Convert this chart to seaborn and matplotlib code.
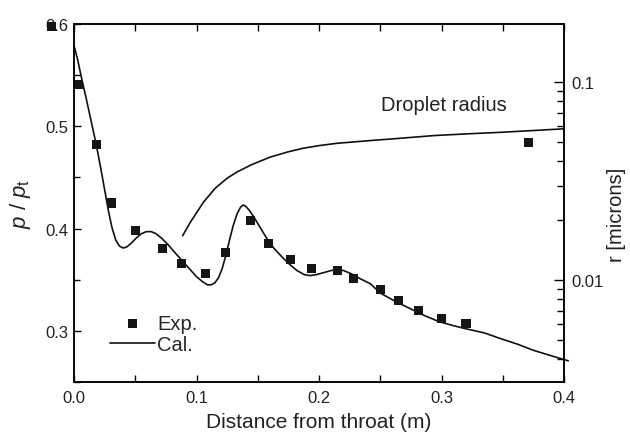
import numpy as np
import pandas as pd
import matplotlib
matplotlib.use("Agg")
import matplotlib.pyplot as plt
import matplotlib.ticker as mticker
import seaborn as sns

# ---- data ----
exp_x = [-0.018, 0.004, 0.0185, 0.031, 0.050, 0.072, 0.088, 0.107, 0.124, 0.144,
         0.159, 0.177, 0.194, 0.215, 0.228, 0.250, 0.265, 0.281, 0.300, 0.320]
exp_p = [0.598, 0.541, 0.482, 0.425, 0.398, 0.381, 0.366, 0.356, 0.377, 0.408,
         0.385, 0.370, 0.361, 0.359, 0.351, 0.340, 0.330, 0.3195, 0.312, 0.307]

cal_x = [0.000, 0.003, 0.006, 0.010, 0.014, 0.018, 0.022, 0.025, 0.028, 0.031,
         0.034, 0.037, 0.040, 0.043, 0.047, 0.051, 0.055, 0.059, 0.063, 0.067,
         0.072, 0.077, 0.082, 0.088, 0.094, 0.100, 0.105, 0.109, 0.112, 0.115,
         0.118, 0.121, 0.124, 0.127, 0.130, 0.133, 0.136, 0.138, 0.140, 0.143,
         0.147, 0.152, 0.157, 0.163, 0.170, 0.176, 0.182, 0.188, 0.193, 0.198,
         0.204, 0.210, 0.215, 0.220, 0.226, 0.232, 0.242, 0.250, 0.262, 0.274,
         0.286, 0.298, 0.310, 0.320, 0.335, 0.348, 0.362, 0.375, 0.390, 0.4035]
cal_p = [0.579, 0.565, 0.548, 0.527, 0.505, 0.483, 0.458, 0.438, 0.418, 0.401,
         0.389, 0.383, 0.381, 0.382, 0.386, 0.391, 0.395, 0.397, 0.397, 0.395,
         0.390, 0.384, 0.377, 0.369, 0.361, 0.353, 0.348, 0.345, 0.345, 0.347,
         0.352, 0.361, 0.374, 0.389, 0.403, 0.414, 0.421, 0.423, 0.422, 0.418,
         0.411, 0.401, 0.391, 0.381, 0.372, 0.365, 0.359, 0.355, 0.354, 0.355,
         0.357, 0.359, 0.360, 0.359, 0.356, 0.352, 0.346, 0.337, 0.329, 0.322,
         0.315, 0.309, 0.305, 0.302, 0.298, 0.2925, 0.287, 0.281, 0.2755, 0.2707]

rad_x = [0.0887, 0.095, 0.1056, 0.115, 0.125, 0.1328, 0.145, 0.160, 0.175, 0.1873,
         0.200, 0.2144, 0.2416, 0.265, 0.293, 0.320, 0.3478, 0.375, 0.399]
rad_r = [0.01675, 0.0196, 0.0247, 0.0290, 0.0327, 0.0351, 0.0383, 0.0418, 0.0445,
         0.0464, 0.0478, 0.0491, 0.0507, 0.0520, 0.0537, 0.0548, 0.0558, 0.0570, 0.0581]

rad_exp_x = [0.371]
rad_exp_r = [0.0497]

x_ticks = [0.0, 0.1, 0.2, 0.3, 0.4]
x_ticklabels = ["0.0", "0.1", "0.2", "0.3", "0.4"]
y_ticks = [0.3, 0.4, 0.5, 0.6]
y_ticklabels = ["0.3", "0.4", "0.5", "0.6"]
r_ticks = [0.01, 0.1]
r_ticklabels = ["0.01", "0.1"]

# ---- style ----
sns.set_theme(style="ticks")
plt.rcParams["font.family"] = ["Liberation Sans", "DejaVu Sans"]
plt.rcParams["mathtext.fontset"] = "custom"
plt.rcParams["mathtext.rm"] = "Liberation Sans"
plt.rcParams["mathtext.it"] = "Liberation Sans:italic"
plt.rcParams["axes.linewidth"] = 1.1
plt.rcParams["axes.edgecolor"] = "black"

fig = plt.figure(figsize=(6.3, 4.35), dpi=100)
ax = fig.add_axes([74 / 630, 1 - 383 / 435, 490 / 630, 358 / 435])

exp_df = pd.DataFrame({"x": exp_x, "p": exp_p})
cal_df = pd.DataFrame({"x": cal_x, "p": cal_p})
rad_df = pd.DataFrame({"x": rad_x, "r": rad_r})
rad_exp_df = pd.DataFrame({"x": rad_exp_x, "r": rad_exp_r})

sns.scatterplot(data=exp_df, x="x", y="p", ax=ax, marker="s", s=42, color="#151515",
                edgecolor="none", label="Exp.", clip_on=False, zorder=3)
sns.lineplot(data=cal_df, x="x", y="p", ax=ax, color="#111111", linewidth=1.2,
             label="Cal.", sort=False, clip_on=False)

ax.set_xlim(0.0, 0.4)
ax.set_ylim(0.25, 0.6)
ax.set_xticks(x_ticks)
ax.set_xticklabels(x_ticklabels)
ax.set_yticks(y_ticks)
ax.set_yticklabels(y_ticklabels)
ax.xaxis.set_minor_locator(mticker.MultipleLocator(0.05))
ax.yaxis.set_minor_locator(mticker.MultipleLocator(0.05))
ax.tick_params(axis="x", which="both", direction="in", top=True, bottom=True,
               labelsize=12, pad=6, colors="black", width=1.0)
ax.tick_params(axis="x", which="major", length=5)
ax.tick_params(axis="x", which="minor", length=5)
ax.tick_params(axis="y", which="both", direction="in", left=True, right=False,
               labelsize=12, pad=4, colors="black", width=1.0)
ax.tick_params(axis="y", which="major", length=5)
ax.tick_params(axis="y", which="minor", length=4)
for lbl in ax.get_xticklabels() + ax.get_yticklabels():
    lbl.set_color("#222222")

ax.set_xlabel("Distance from throat (m)", fontsize=15, labelpad=5, color="#222222")
ax.set_ylabel(r"$p$ / $p_{\rm t}$", fontsize=16, labelpad=9, color="#222222")

ax2 = ax.twinx()
sns.lineplot(data=rad_df, x="x", y="r", ax=ax2, color="#111111", linewidth=1.2,
             sort=False, legend=False)
sns.scatterplot(data=rad_exp_df, x="x", y="r", ax=ax2, marker="s", s=42,
                color="#151515", edgecolor="none", legend=False, zorder=3)
ax2.set_yscale("log")
ax2.set_ylim(0.00305, 0.197)
ax2.yaxis.set_major_locator(mticker.FixedLocator(r_ticks))
ax2.yaxis.set_major_formatter(mticker.FixedFormatter(r_ticklabels))
ax2.yaxis.set_minor_locator(mticker.LogLocator(base=10, subs=np.arange(2, 10)))
ax2.yaxis.set_minor_formatter(mticker.NullFormatter())
ax2.tick_params(axis="y", which="both", direction="in", labelsize=12, pad=5,
                colors="black", width=1.0)
ax2.tick_params(axis="y", which="major", length=7)
ax2.tick_params(axis="y", which="minor", length=5)
for lbl in ax2.get_yticklabels():
    lbl.set_color("#222222")
ax2.set_ylabel("r [microns]", fontsize=14.5, color="#222222")
ax2.yaxis.set_label_coords(1.087, 0.47)
ax2.set_xlim(0.0, 0.4)
for sp in ax2.spines.values():
    sp.set_linewidth(1.1)

ax2.text(0.2506, 0.0769, "Droplet radius", transform=ax2.transData, fontsize=14.5,
         color="#222222", va="center", ha="left")

handles, labels = ax.get_legend_handles_labels()
ax.legend(handles, labels, loc="center left", bbox_to_anchor=(0.0735, 0.134),
          frameon=False, fontsize=14.5, handlelength=2.25, handletextpad=0.1,
          labelspacing=0.1, borderpad=0, borderaxespad=0, markerscale=1.0)

fig.savefig("out.png", dpi=100)
